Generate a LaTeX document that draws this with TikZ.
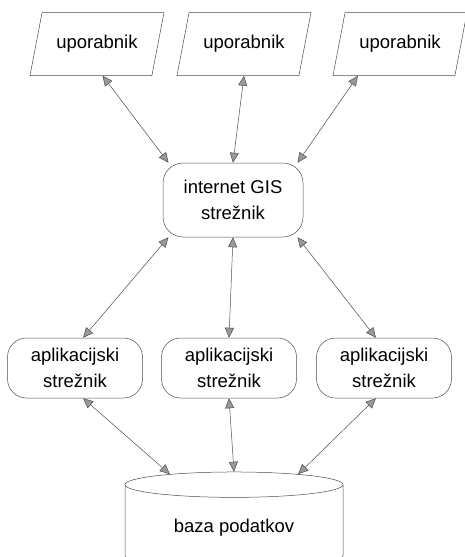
\documentclass[tikz,border=0pt]{standalone}
\usepackage{fontspec}
\setmainfont{Liberation Sans}
\usetikzlibrary{positioning,shapes.geometric,arrows.meta}
\begin{document}
\begin{tikzpicture}[on grid, font=\fontsize{18.5}{26}\selectfont,
    user/.style = {draw=black!70, line width=0.5pt, trapezium, trapezium left angle=68, trapezium right angle=112, trapezium stretches=true, minimum width=134pt, minimum height=63pt},
    server/.style = {draw=black!70, line width=0.5pt, rounded corners=19pt, align=center, minimum width=135pt, minimum height=60pt},
    base/.style = {draw=black!70, line width=0.5pt, cylinder, shape border rotate=90, aspect=0.2, minimum width=218pt, minimum height=96pt},
    link/.style = {draw=black!70, line width=0.5pt, {Triangle[fill=gray!80, length=10pt, width=9pt]}-{Triangle[fill=gray!80, length=10pt, width=9pt]}}]
    \useasboundingbox (0,0) rectangle (464pt,-557pt);
    \node[server, minimum width=140pt, minimum height=74pt, rounded corners=20pt] (gis) at (233pt,-200pt) {internet GIS\\strežnik};
    \node[user] (u2) [above right=156pt and 11pt of gis] {uporabnik};
    \node[user] (u1) [left=147pt of u2] {uporabnik};
    \node[user] (u3) [right=156pt of u2] {uporabnik};
    \node[server] (a2) [below left=168pt and 4pt of gis] {aplikacijski\\strežnik};
    \node[server] (a1) [left=154pt of a2] {aplikacijski\\strežnik};
    \node[server] (a3) [right=155pt of a2] {aplikacijski\\strežnik};
    \node[base] (db) [below right=160pt and 5pt of a2] {baza podatkov};

    \draw[link] (u1.-80) -- (gis.150);
    \draw[link] (u2.-90) -- (gis.north);
    \draw[link] (u3.-143) -- (gis.30);
    \draw[link] (gis.210) -- (a1.75);
    \draw[link] (gis.south) -- (a2.north);
    \draw[link] (gis.330) -- (a3.105);
    \draw[link] (a1.-75) -- (db.140);
    \draw[link] (a2.south) -- (db.north);
    \draw[link] (a3.-105) -- (db.40);
\end{tikzpicture}
\end{document}
